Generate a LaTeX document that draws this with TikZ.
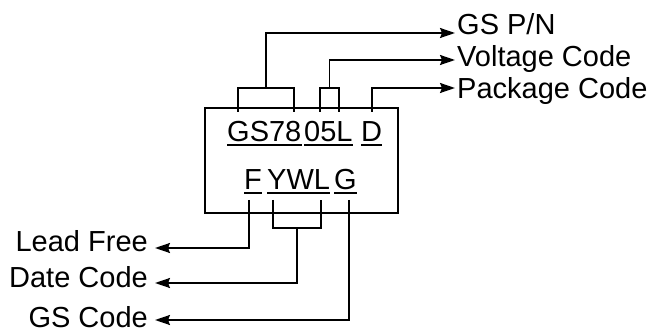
\documentclass[tikz,border=0pt]{standalone}
\usepackage{fontspec}
\setmainfont{Liberation Sans}
\usetikzlibrary{arrows.meta,positioning,calc}
\newcommand{\markfont}{\fontsize{29}{33}\selectfont}

\begin{document}
\begin{tikzpicture}[x=1pt,y=-1pt,
  chip/.style={draw=black,line width=1.8pt,inner sep=0pt,
               minimum width=193pt,minimum height=105pt},
  code/.style={font=\markfont,inner sep=0pt,anchor=base west},
  lbl/.style={font=\markfont,inner sep=0pt},
  wire/.style={draw=black,line width=1.8pt},
  link/.style={wire,-{Stealth[length=15pt,width=10pt,inset=2pt]}},
  uline/.style={draw=black,line width=1.2pt}
]
  \useasboundingbox (0,0) rectangle (649,334);

  %% ---- package outline ----
  \node[chip,anchor=north west] (box) at (204,107) {};

  %% ---- marking, top line ----
  \node[code] (gs78) at (227,142) {GS78};
  \node[code] (volt) at (304,142) {05L};
  \node[code] (pkg)  at (361,142) {D};

  %% ---- marking, bottom line ----
  \node[code] (lf)   at (244,190) {F};
  \node[code] (date) at (267,190) {YWL};
  \node[code] (gsc)  at (334,190) {G};

  % underlines
  \foreach \n in {gs78,volt,pkg,lf,date,gsc}
    \draw[uline] ($(\n.base west)+(0,3)$) -- ($(\n.base east)+(0,3)$);

  %% ---- legends ----
  \node[lbl,anchor=base west] (pn) at (457,35) {GS P/N};
  \node[lbl,anchor=base west] (vc) at (457,67) {Voltage Code};
  \node[lbl,anchor=base west] (pc) at (457,99) {Package Code};

  \node[lbl,anchor=base east] (leadfree) at (148,252) {Lead Free};
  \node[lbl,anchor=base east] (datecode) at (148,288) {Date Code};
  \node[lbl,anchor=base east] (gscode)   at (148,327) {GS Code};

  %% ---- top brackets ----
  \coordinate (gsA) at ($(gs78.base west)+(11,-30)$);
  \coordinate (gsB) at ($(gs78.base west)+(67,-30)$);
  \draw[wire] (gsA) -- ++(0,-24) -| (gsB);
  \draw[link] ($(gsA)!0.5!(gsB)+(0,-24)$) |- ($(pn.base west)+(-2,-2)$);

  \coordinate (vA) at ($(volt.base west)+(16,-30)$);
  \coordinate (vB) at ($(volt.base west)+(35,-30)$);
  \draw[wire] (vA) -- ++(0,-24) -| (vB);
  \draw[link] ($(vA)!0.5!(vB)+(0,-24)$) |- ($(vc.base west)+(-2,-7)$);

  \coordinate (dA) at ($(pkg.base west)+(11,-30)$);
  \draw[link] (dA) |- ($(pc.base west)+(-2,-11)$);

  %% ---- bottom brackets ----
  \coordinate (fA) at ($(lf.base west)+(5,10)$);
  \draw[link] (fA) |- ($(leadfree.base east)+(7,-4)$);

  \coordinate (yA) at ($(date.base west)+(6,10)$);
  \coordinate (yB) at ($(date.base west)+(54,10)$);
  \draw[wire] (yA) -- ++(0,28) -| (yB);
  \draw[link] ($(yA)!0.5!(yB)+(0,28)$) |- ($(datecode.base east)+(7,-5)$);

  \coordinate (gA) at ($(gsc.base west)+(15,10)$);
  \draw[link] (gA) |- ($(gscode.base east)+(7,-7)$);
\end{tikzpicture}
\end{document}
